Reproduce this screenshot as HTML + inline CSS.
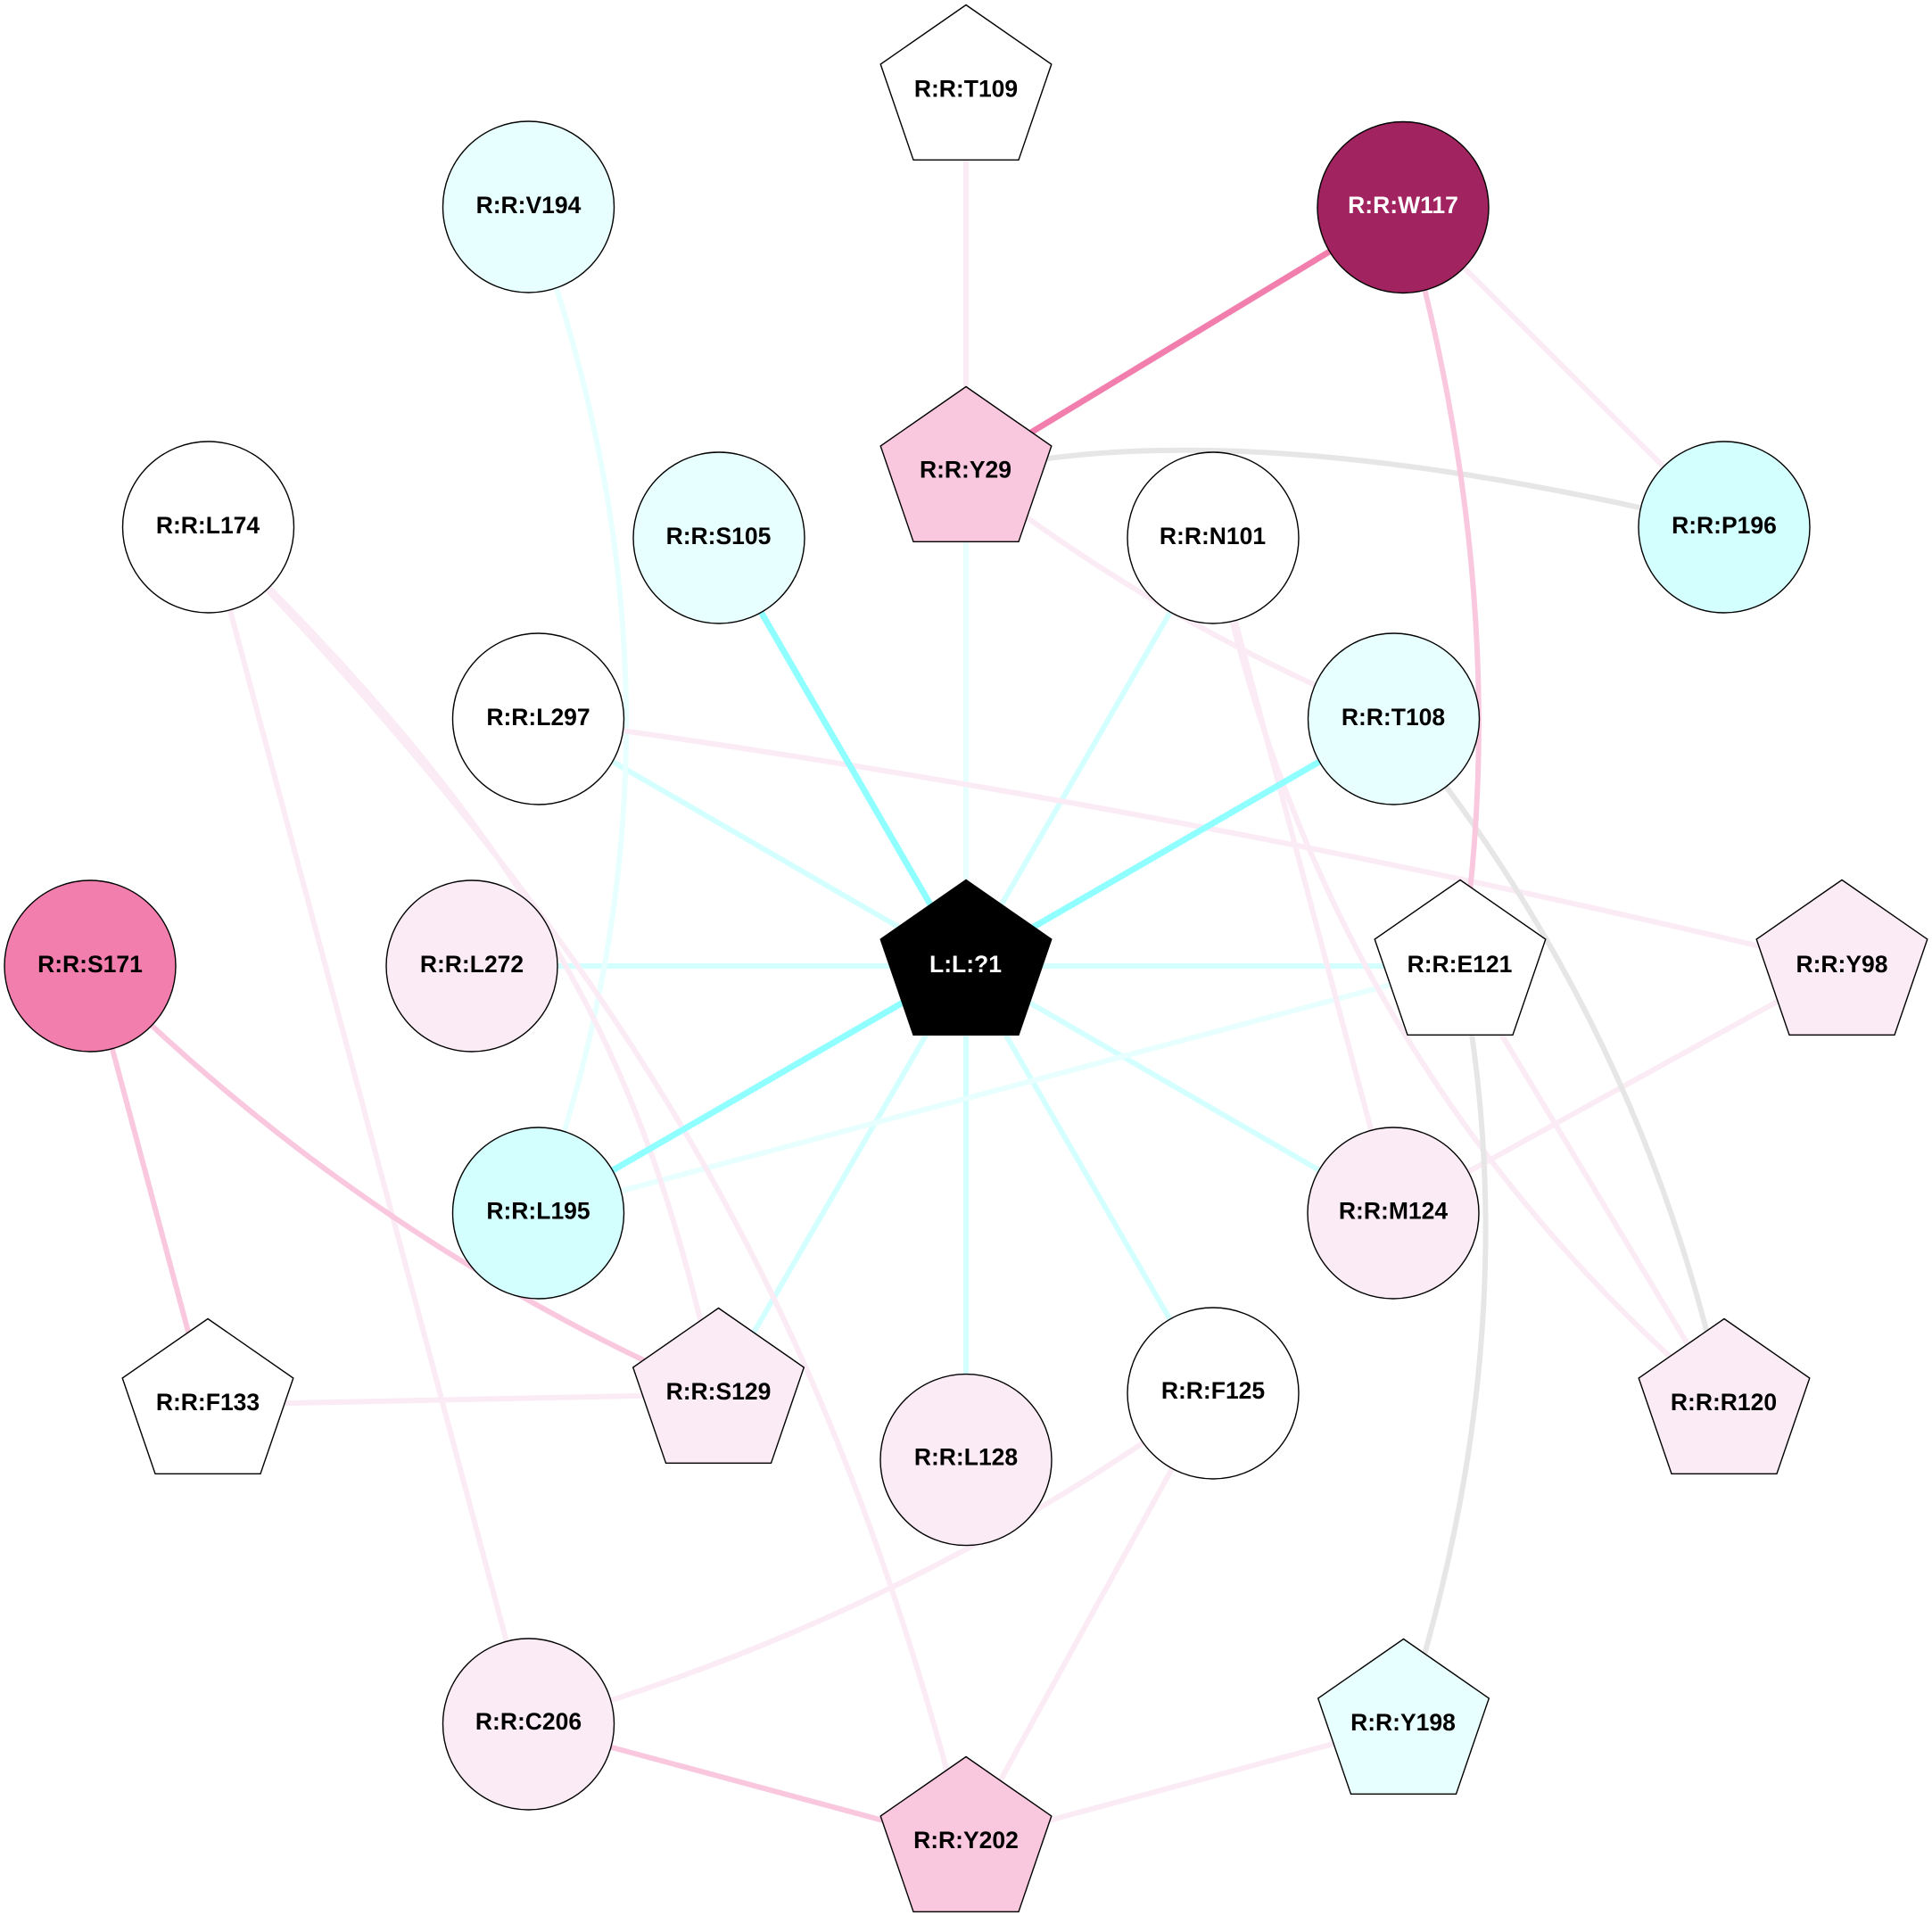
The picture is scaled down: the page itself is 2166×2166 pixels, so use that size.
<!DOCTYPE html>
<html><head><meta charset="utf-8"><style>
html,body{margin:0;padding:0;background:#fff}
svg{display:block}
text{font-family:"Liberation Sans",Arial,sans-serif;font-weight:bold;font-size:26.5px;text-anchor:middle;fill:#000}
.e{fill:none;stroke-width:6}
.p{stroke:#fbebf4}.h{stroke:#f9c8df}.m{stroke:#f27eae;stroke-width:6.8}.g{stroke:#e6e6e6}
.c{stroke:#8fffff;stroke-width:7}.d{stroke:#d4ffff}.l{stroke:#e8ffff}
.n{stroke:#000;stroke-width:1.4}
</style></head><body>
<svg xmlns="http://www.w3.org/2000/svg" width="2166" height="2166" viewBox="0 0 2166 2166">
<rect width="2166" height="2166" fill="#fff"/>
<defs><polygon id="pg" points="0,-96.5 95.8,-30 59,77.3 -59,77.3 -95.8,-30"/></defs>
<!-- edges -->
<g>
<path class="e l" d="M1083,529L1083,1083"/>
<path class="e d" d="M1360,603L1083,1083"/>
<path class="e d" d="M604,806L1083,1083"/>
<path class="e d" d="M529,1083L1083,1083"/>
<path class="e d" d="M1637,1083L1083,1083"/>
<path class="e d" d="M1562,1360L1083,1083"/>
<path class="e d" d="M1360,1563L1083,1083"/>
<path class="e d" d="M1083,1637L1083,1083"/>
<path class="e d" d="M805,1563L1083,1083"/>
<path class="e l" d="M592,232Q807,800 602,1360"/>
<path class="e l" d="M604,1360L1637,1083"/>
<path class="e p" d="M1083,102L1083,529"/>
<path class="e p" d="M1573,232L1933,591"/>
<path class="e p" d="M1083,529Q1303.5,701.5 1562,806"/>
<path class="e p" d="M604,806Q1334.5,905 2065,1083"/>
<path class="e p" d="M2065,1083L1562,1360"/>
<path class="e p" d="M1360,603L1562,1360"/>
<path class="e p" d="M1360,603Q1478,1188 1933,1575"/>
<path class="e p" d="M1637,1083L1933,1575"/>
<path class="e p" d="M233,591L593,1934"/>
<path class="e p" d="M233,591C662,1003 736,1264 805,1563"/>
<path class="e p" d="M233,591C702,1078 928,1456 1083,2066"/>
<path class="e p" d="M233,1575L805,1563"/>
<path class="e p" d="M593,1934Q1010,1817 1360,1563"/>
<path class="e p" d="M1360,1563L1083,2066"/>
<path class="e p" d="M1083,2066L1573,1934"/>
<path class="e g" d="M1083,531C1290,480 1580,505 1933,591"/>
<path class="e g" d="M1562,806Q1841,1145 1933,1575"/>
<path class="e g" d="M1637,1083Q1717,1490 1573,1934"/>
<path class="e h" d="M1573,232Q1700,680 1637,1083"/>
<path class="e h" d="M101,1083L233,1575"/>
<path class="e h" d="M101,1083Q407,1391 805,1563"/>
<path class="e h" d="M593,1934L1083,2066"/>
<path class="e m" d="M1573,232L1083,529"/>
<path class="e c" d="M805,603L1083,1083"/>
<path class="e c" d="M1562,806L1083,1083"/>
<path class="e c" d="M604,1360L1083,1083"/>
</g>
<!-- nodes -->
<g class="n">
<use href="#pg" x="1083" y="102" fill="#ffffff"/>
<circle cx="592.5" cy="232" r="96" fill="#e8ffff"/>
<circle cx="1573" cy="232.5" r="96" fill="#a12360"/>
<use href="#pg" x="1083" y="530" fill="#f9c8df"/>
<circle cx="233.5" cy="591" r="96" fill="#ffffff"/>
<circle cx="806" cy="603" r="96" fill="#e8ffff"/>
<circle cx="1360" cy="603" r="96" fill="#ffffff"/>
<circle cx="1933" cy="591" r="96" fill="#d4ffff"/>
<circle cx="603.5" cy="806" r="96" fill="#ffffff"/>
<circle cx="1562.5" cy="806" r="96" fill="#e8ffff"/>
<circle cx="101" cy="1083" r="96" fill="#f27eae"/>
<circle cx="529" cy="1083" r="96" fill="#fbebf4"/>
<use href="#pg" x="1083" y="1083" fill="#000000"/>
<use href="#pg" x="1637" y="1083" fill="#ffffff"/>
<use href="#pg" x="2065" y="1083" fill="#fbebf4"/>
<circle cx="603.5" cy="1360" r="96" fill="#d4ffff"/>
<circle cx="1562" cy="1360" r="96" fill="#fbebf4"/>
<use href="#pg" x="233" y="1575" fill="#ffffff"/>
<use href="#pg" x="805.5" y="1563" fill="#fbebf4"/>
<circle cx="1360" cy="1562" r="96" fill="#ffffff"/>
<use href="#pg" x="1933" y="1575" fill="#fbebf4"/>
<circle cx="1083" cy="1636.6" r="96" fill="#fbebf4"/>
<circle cx="592.5" cy="1933" r="96" fill="#fbebf4"/>
<use href="#pg" x="1573.5" y="1934" fill="#e8ffff"/>
<use href="#pg" x="1083" y="2066" fill="#f9c8df"/>
</g>
<!-- labels -->
<g>
<text x="1083" y="108.5">R:R:T109</text>
<text x="592.5" y="239">R:R:V194</text>
<text x="1573" y="239" style="fill:#fff">R:R:W117</text>
<text x="1082.5" y="535.5">R:R:Y29</text>
<text x="233" y="598">R:R:L174</text>
<text x="805.5" y="610">R:R:S105</text>
<text x="1359.5" y="610">R:R:N101</text>
<text x="1933" y="598">R:R:P196</text>
<text x="603.5" y="813">R:R:L297</text>
<text x="1562" y="813">R:R:T108</text>
<text x="101" y="1090">R:R:S171</text>
<text x="529" y="1090">R:R:L272</text>
<text x="1082.5" y="1090" style="fill:#fff">L:L:?1</text>
<text x="1636.5" y="1090">R:R:E121</text>
<text x="2065" y="1090">R:R:Y98</text>
<text x="603.5" y="1366.5">R:R:L195</text>
<text x="1562" y="1366.5">R:R:M124</text>
<text x="233" y="1581">R:R:F133</text>
<text x="805.5" y="1569">R:R:S129</text>
<text x="1360" y="1568">R:R:F125</text>
<text x="1932.5" y="1581">R:R:R120</text>
<text x="1083" y="1642.5">R:R:L128</text>
<text x="592.5" y="1939">R:R:C206</text>
<text x="1573" y="1940">R:R:Y198</text>
<text x="1083" y="2072">R:R:Y202</text>
</g>
</svg>
</body></html>
